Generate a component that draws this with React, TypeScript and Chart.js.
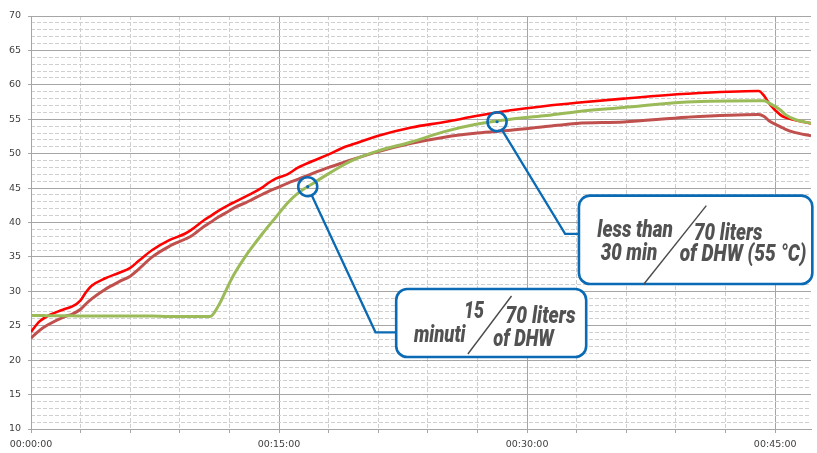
import React, { useEffect, useRef } from 'react';
import { Chart, registerables } from 'chart.js';

Chart.register(...registerables);

// time in seconds from start
const timesSec = [0, 30, 60, 120, 150, 180, 200, 220, 270, 320, 360, 390, 440, 500, 560, 580, 630, 650, 680, 720, 740, 780, 800, 840, 860, 890, 930, 970, 1020, 1080, 1140, 1170, 1260, 1380, 1500, 1620, 1740, 1860, 1980, 2150, 2380, 2640, 2660, 2680, 2720, 2740, 2770, 2830];

const redSeries = [24.1, 25.6, 26.4, 27.4, 27.8, 28.7, 29.9, 30.8, 31.9, 32.7, 33.4, 34.4, 36.0, 37.4, 38.4, 38.9, 40.4, 40.9, 41.7, 42.6, 43.0, 43.8, 44.2, 45.1, 45.7, 46.4, 47.0, 48.0, 48.9, 49.9, 51.0, 51.4, 52.6, 53.8, 54.6, 55.5, 56.3, 56.9, 57.4, 58.0, 58.7, 59.1, 58.4, 57.2, 55.6, 55.2, 54.9, 54.4];

const brownSeries = [23.2, 24.3, 25.1, 26.3, 26.7, 27.4, 28.2, 28.9, 30.3, 31.4, 32.2, 33.2, 35.0, 36.5, 37.6, 38.0, 39.5, 40.0, 40.8, 41.7, 42.2, 42.9, 43.3, 44.1, 44.5, 45.0, 45.7, 46.3, 47.1, 48.0, 48.8, 49.2, 50.3, 51.5, 52.4, 53.0, 53.4, 53.9, 54.4, 54.6, 55.3, 55.7, 55.4, 54.7, 53.9, 53.5, 53.1, 52.6];

const greenSeries = [26.5, 26.5, 26.45, 26.45, 26.45, 26.4, 26.4, 26.4, 26.4, 26.4, 26.4, 26.4, 26.4, 26.35, 26.35, 26.35, 26.35, 26.35, 27.9, 31.2, 32.7, 35.2, 36.3, 38.4, 39.4, 40.85, 42.8, 44.3, 45.6, 47.1, 48.5, 49.1, 50.4, 51.7, 53.2, 54.3, 55.0, 55.5, 56.1, 56.7, 57.5, 57.7, 57.7, 57.3, 56.3, 55.6, 55.0, 54.4];

const xMajorTicks = [0, 900, 1800, 2700];
const xTickLabels = ['00:00:00', '00:15:00', '00:30:00', '00:45:00'];
const yTickLabels = [10, 15, 20, 25, 30, 35, 40, 45, 50, 55, 60, 65, 70];

const X_MIN = 0;
const X_MAX = 2830;
const X_MINOR = 180;
const Y_MIN = 10;
const Y_MAX = 70;

// callouts: anchor point on the green curve (time sec, value) and box top-left (time sec, value)
const callouts = [
  {
    t: 1004, v: 45.2,
    boxT: 1325, boxV: 30.34, w: 190, h: 68, elbow: [-20.7, 43.3],
    texts: [
      { s: '15', dx: 67.7, dy: 29.3, w: 20 },
      { s: 'minuti', dx: 17.7, dy: 52.7, w: 51.6 },
      { s: '70 liters', dx: 109.3, dy: 34.3, w: 70 },
      { s: 'of DHW', dx: 97, dy: 57, w: 60.7 },
    ],
    slash: [71.7, 65, 115.3, 7],
  },
  {
    t: 1691, v: 54.64,
    boxT: 1988, boxV: 43.9, w: 233.4, h: 88.3, elbow: [-13.8, 38.3],
    texts: [
      { s: 'less than', dx: 18.4, dy: 41, w: 75.6 },
      { s: '30 min', dx: 21.7, dy: 64.3, w: 56.7 },
      { s: '70 liters', dx: 115, dy: 44.3, w: 68.4 },
      { s: 'of DHW (55 °C)', dx: 100.7, dy: 65.3, w: 126.7 },
    ],
    slash: [65, 88.3, 127.4, 10],
  },
];

const MAJOR_GRID = '#a6a6a6';
const MINOR_GRID = '#cfcfcf';
const CALLOUT_BLUE = '#0a6ab4';
const TEXT_GRAY = '#525252';

const calloutPlugin = {
  id: 'callouts',
  afterDatasetsDraw(chart: any) {
    const { ctx } = chart;
    const xs = chart.scales.x;
    const ys = chart.scales.y;
    ctx.save();
    callouts.forEach((c) => {
      const cx = xs.getPixelForValue(c.t);
      const cy = ys.getPixelForValue(c.v);
      const bx = xs.getPixelForValue(c.boxT);
      const by = ys.getPixelForValue(c.boxV);
      const ex = bx + c.elbow[0];
      const ey = by + c.elbow[1];
      const r = 9.5;
      const dx = ex - cx;
      const dy = ey - cy;
      const len = Math.hypot(dx, dy);
      ctx.strokeStyle = CALLOUT_BLUE;
      ctx.lineWidth = 2.3;
      ctx.lineJoin = 'miter';
      ctx.beginPath();
      ctx.moveTo(cx + (dx / len) * r, cy + (dy / len) * r);
      ctx.lineTo(ex, ey);
      ctx.lineTo(bx, ey);
      ctx.stroke();
      ctx.lineWidth = 2.6;
      ctx.beginPath();
      ctx.arc(cx, cy, r, 0, Math.PI * 2);
      ctx.stroke();
      ctx.fillStyle = CALLOUT_BLUE;
      ctx.beginPath();
      ctx.arc(cx, cy, 1.6, 0, Math.PI * 2);
      ctx.fill();
      // box
      ctx.beginPath();
      (ctx as any).roundRect(bx, by, c.w, c.h, 11);
      ctx.fillStyle = '#ffffff';
      ctx.fill();
      ctx.lineWidth = 2.6;
      ctx.strokeStyle = CALLOUT_BLUE;
      ctx.stroke();
      // slash
      ctx.strokeStyle = '#4a4a4a';
      ctx.lineWidth = 1.4;
      ctx.beginPath();
      ctx.moveTo(bx + c.slash[0], by + c.slash[1]);
      ctx.lineTo(bx + c.slash[2], by + c.slash[3]);
      ctx.stroke();
      // texts
      ctx.fillStyle = TEXT_GRAY;
      ctx.font = 'italic 900 23px Roboto, "Noto Sans", sans-serif';
      ctx.textAlign = 'left';
      ctx.textBaseline = 'alphabetic';
      c.texts.forEach((t) => {
        ctx.fillText(t.s, bx + t.dx, by + t.dy, t.w);
      });
    });
    ctx.restore();
  },
};

export default function App() {
  const canvasRef = useRef<HTMLCanvasElement | null>(null);

  useEffect(() => {
    document.body.style.margin = '0';
    const canvas = canvasRef.current;
    if (!canvas) return;

    const mk = (vals: number[]) => timesSec.map((t, i) => ({ x: t, y: vals[i] }));

    const chart = new Chart(canvas, {
      type: 'line',
      data: {
        datasets: [
          {
            label: 'green',
            data: mk(greenSeries),
            borderColor: '#9bbb59',
            borderWidth: 3,
            pointRadius: 0,
            cubicInterpolationMode: 'monotone',
            xAxisID: 'x',
            yAxisID: 'y',
          },
          {
            label: 'red',
            data: mk(redSeries),
            borderColor: '#ff0000',
            borderWidth: 2.6,
            pointRadius: 0,
            cubicInterpolationMode: 'monotone',
            xAxisID: 'x',
            yAxisID: 'y',
          },
          {
            label: 'brown',
            data: mk(brownSeries),
            borderColor: '#c0504d',
            borderWidth: 3,
            pointRadius: 0,
            cubicInterpolationMode: 'monotone',
            xAxisID: 'x',
            yAxisID: 'y',
          },
        ],
      },
      options: {
        animation: false,
        responsive: false,
        devicePixelRatio: 1,
        layout: { padding: { top: 16, right: 0, left: 0, bottom: 0 } },
        plugins: {
          legend: { display: false },
          tooltip: { enabled: false },
        },
        scales: {
          x: {
            type: 'linear',
            position: 'bottom',
            min: X_MIN,
            max: X_MAX,
            afterFit: (s: any) => { s.height = 24; },
            ticks: {
              stepSize: X_MINOR,
              autoSkip: false,
              maxRotation: 0,
              padding: 6,
              color: '#404040',
              font: { family: '"DejaVu Sans"', size: 9.5 },
              callback: (v: any) => {
                const idx = xMajorTicks.indexOf(Number(v));
                return idx >= 0 ? xTickLabels[idx] : '';
              },
            },
            grid: {
              color: (ctx: any) => (ctx.tick && xMajorTicks.includes(ctx.tick.value) ? MAJOR_GRID : 'rgba(0,0,0,0)'),
              tickColor: (ctx: any) => (ctx.tick && ctx.tick.value % X_MINOR === 0 ? MAJOR_GRID : 'rgba(0,0,0,0)'),
              lineWidth: 1,
              tickLength: 4,
            },
            border: { display: true, color: MAJOR_GRID, width: 1 },
          },
          x2: {
            type: 'linear',
            axis: 'x',
            position: 'bottom',
            min: X_MIN,
            max: X_MAX,
            afterFit: (s: any) => { s.height = 0; },
            ticks: { display: false, stepSize: X_MINOR, autoSkip: false, includeBounds: false },
            grid: {
              color: (ctx: any) => (ctx.tick && !xMajorTicks.includes(ctx.tick.value) && ctx.tick.value % X_MINOR === 0 ? MINOR_GRID : 'rgba(0,0,0,0)'),
              drawTicks: false,
              lineWidth: 1,
            },
            border: { display: false, dash: [4, 2] },
          },
          y: {
            type: 'linear',
            position: 'left',
            min: Y_MIN,
            max: Y_MAX,
            afterFit: (s: any) => { s.width = 31; },
            ticks: {
              stepSize: 1,
              autoSkip: false,
              padding: 7,
              color: '#404040',
              font: { family: '"DejaVu Sans"', size: 9.5 },
              callback: (v: any) => (yTickLabels.includes(Number(v)) ? String(v) : ''),
            },
            grid: {
              color: (ctx: any) => (ctx.tick && yTickLabels.includes(ctx.tick.value) ? MAJOR_GRID : 'rgba(0,0,0,0)'),
              tickColor: (ctx: any) => (ctx.tick && yTickLabels.includes(ctx.tick.value) ? MAJOR_GRID : 'rgba(0,0,0,0)'),
              lineWidth: 1,
              tickLength: 3,
            },
            border: { display: true, color: MAJOR_GRID, width: 1 },
          },
          y2: {
            type: 'linear',
            axis: 'y',
            position: 'left',
            min: Y_MIN,
            max: Y_MAX,
            afterFit: (s: any) => { s.width = 0; },
            ticks: { display: false, stepSize: 1, autoSkip: false },
            grid: {
              color: (ctx: any) => (ctx.tick && !yTickLabels.includes(ctx.tick.value) ? MINOR_GRID : 'rgba(0,0,0,0)'),
              drawTicks: false,
              lineWidth: 1,
            },
            border: { display: false, dash: [4, 2] },
          },
        },
      } as any,
      plugins: [calloutPlugin],
    });

    return () => {
      chart.destroy();
    };
  }, []);

  return (
    <div style={{ width: 817, height: 453, background: '#ffffff' }}>
      <canvas ref={canvasRef} width={817} height={453} style={{ display: 'block' }} />
    </div>
  );
}
